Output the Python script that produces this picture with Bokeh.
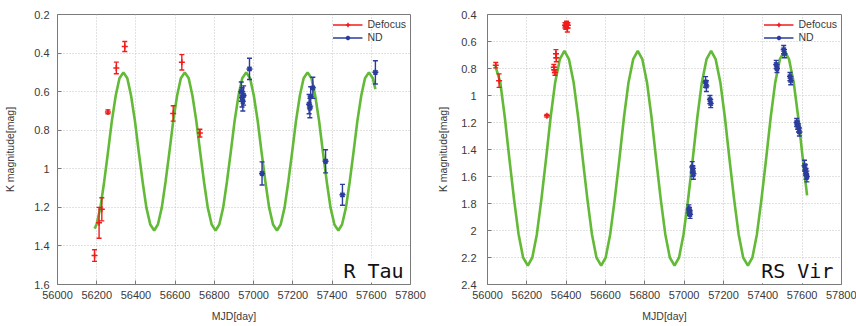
from bokeh.plotting import figure
from bokeh.layouts import row
from bokeh.models import Range1d, FixedTicker, Label, Legend, LegendItem, ColumnDataSource
from bokeh.embed import file_html
from bokeh.resources import INLINE

# ---------------- data ----------------
x_ticks = [56000, 56200, 56400, 56600, 56800, 57000, 57200, 57400, 57600, 57800]
x_tick_labels = ["56000", "56200", "56400", "56600", "56800", "57000", "57200", "57400", "57600", "57800"]

rtau_y_ticks = [0.2, 0.4, 0.6, 0.8, 1.0, 1.2, 1.4, 1.6]
rtau_y_tick_labels = ["0.2", "0.4", "0.6", "0.8", "1", "1.2", "1.4", "1.6"]
rsvir_y_ticks = [0.4, 0.6, 0.8, 1.0, 1.2, 1.4, 1.6, 1.8, 2.0, 2.2, 2.4]
rsvir_y_tick_labels = ["0.4", "0.6", "0.8", "1", "1.2", "1.4", "1.6", "1.8", "2", "2.2", "2.4"]

# R Tau model curve
rtau_model_t = [56189, 56199, 56219, 56238, 56258, 56277, 56297, 56316,
                56336, 56356, 56375, 56395, 56414, 56434, 56453, 56473, 56493, 56512, 56532, 56551, 56571, 56590, 56610, 56629,
                56649, 56669, 56688, 56708, 56727, 56747, 56766, 56786, 56806, 56825, 56845, 56864, 56884, 56903, 56923, 56942,
                56962, 56982, 57001, 57021, 57040, 57060, 57079, 57099, 57119, 57138, 57158, 57177, 57197, 57216, 57236, 57255,
                57275, 57295, 57314, 57334, 57353, 57373, 57392, 57412, 57432, 57451, 57471, 57490, 57510, 57529, 57549, 57568,
                57588, 57608, 57621]
rtau_model_mag = [1.31, 1.289, 1.200, 1.067, 0.91, 0.753, 0.620, 0.531,
                  0.50, 0.531, 0.620, 0.753, 0.91, 1.067, 1.200, 1.289, 1.32, 1.289, 1.200, 1.067, 0.91, 0.753, 0.620, 0.531,
                  0.50, 0.531, 0.620, 0.753, 0.91, 1.067, 1.200, 1.289, 1.32, 1.289, 1.200, 1.067, 0.91, 0.753, 0.620, 0.531,
                  0.50, 0.531, 0.620, 0.753, 0.91, 1.067, 1.200, 1.289, 1.32, 1.289, 1.200, 1.067, 0.91, 0.753, 0.620, 0.531,
                  0.50, 0.531, 0.620, 0.753, 0.91, 1.067, 1.200, 1.289, 1.32, 1.289, 1.200, 1.067, 0.91, 0.753, 0.620, 0.531,
                  0.50, 0.531, 0.587]

rtau_defocus_t = [56189, 56212, 56226, 56257, 56300, 56343, 56590, 56634, 56726]
rtau_defocus_mag = [1.45, 1.28, 1.21, 0.705, 0.477, 0.366, 0.713, 0.448, 0.815]
rtau_defocus_err = [0.03, 0.08, 0.06, 0.01, 0.03, 0.026, 0.04, 0.04, 0.02]

rtau_nd_t = [56937, 56941, 56945, 56949, 56979, 57043, 57283, 57287, 57291, 57302, 57367, 57453, 57621]
rtau_nd_mag = [0.60, 0.63, 0.65, 0.62, 0.482, 1.024, 0.665, 0.685, 0.625, 0.58, 0.961, 1.135, 0.50]
rtau_nd_err = [0.05, 0.05, 0.05, 0.05, 0.055, 0.06, 0.05, 0.05, 0.05, 0.055, 0.06, 0.054, 0.06]

# RS Vir model curve
rsvir_model_t = [56040, 56065, 56088, 56111, 56135, 56158, 56181, 56205, 56228, 56251, 56274, 56298, 56321, 56344, 56368,
                 56391, 56414, 56438, 56461, 56484, 56508, 56531, 56554, 56578, 56601, 56624, 56647, 56671, 56694, 56717, 56741,
                 56764, 56787, 56811, 56834, 56857, 56881, 56904, 56927, 56951, 56974, 56997, 57020, 57044, 57067, 57090, 57114,
                 57137, 57160, 57184, 57207, 57230, 57254, 57277, 57300, 57324, 57347, 57370, 57393, 57417, 57440, 57463, 57487,
                 57510, 57533, 57557, 57580, 57603, 57625]
rsvir_model_mag = [0.78, 0.903, 1.161, 1.465, 1.769, 2.027, 2.200, 2.26, 2.200, 2.027, 1.769, 1.465, 1.161, 0.903, 0.730,
                   0.67, 0.730, 0.903, 1.161, 1.465, 1.769, 2.027, 2.200, 2.26, 2.200, 2.027, 1.769, 1.465, 1.161, 0.903, 0.730,
                   0.67, 0.730, 0.903, 1.161, 1.465, 1.769, 2.027, 2.200, 2.26, 2.200, 2.027, 1.769, 1.465, 1.161, 0.903, 0.730,
                   0.67, 0.730, 0.903, 1.161, 1.465, 1.769, 2.027, 2.200, 2.26, 2.200, 2.027, 1.769, 1.465, 1.161, 0.903, 0.730,
                   0.67, 0.730, 0.903, 1.161, 1.465, 1.74]

rsvir_defocus_t = [56042, 56059, 56302, 56337, 56340, 56343, 56348, 56350, 56394, 56398, 56402, 56406, 56409]
rsvir_defocus_mag = [0.775, 0.89, 1.15, 0.79, 0.81, 0.83, 0.69, 0.72, 0.48, 0.49, 0.47, 0.50, 0.48]
rsvir_defocus_err = [0.02, 0.05, 0.01, 0.02, 0.02, 0.02, 0.03, 0.03, 0.02, 0.02, 0.02, 0.03, 0.02]

rsvir_nd_t = [57024, 57027, 57030, 57041, 57044, 57047, 57109, 57113, 57131, 57135, 57468, 57472, 57506, 57510,
              57538, 57542, 57572, 57577, 57582, 57586, 57612, 57616, 57620, 57624]
rsvir_nd_mag = [1.84, 1.86, 1.88, 1.53, 1.56, 1.58, 0.90, 0.93, 1.03, 1.06, 0.77, 0.80, 0.66, 0.69,
                0.86, 0.89, 1.20, 1.22, 1.24, 1.27, 1.52, 1.55, 1.58, 1.60]
rsvir_nd_err = [0.03, 0.03, 0.03, 0.04, 0.04, 0.04, 0.04, 0.04, 0.03, 0.03, 0.03, 0.03, 0.03, 0.03,
                0.03, 0.03, 0.03, 0.03, 0.03, 0.03, 0.04, 0.04, 0.04, 0.04]

# ---------------- style ----------------
GREEN = "#62ba36"
RED = "#f01c1c"
BLUE = "#2b3c9c"
TXT = "#3a3a3a"
FONT = "Liberation Sans"


def errbars(p, t, mag, err, color, marker):
    src = ColumnDataSource(dict(t=t, mag=mag,
                                lo=[m - e for m, e in zip(mag, err)],
                                hi=[m + e for m, e in zip(mag, err)]))
    seg = p.segment(x0="t", y0="lo", x1="t", y1="hi", source=src, line_color=color, line_width=1.4)
    p.scatter(x="t", y="lo", source=src, marker="dash", size=5, line_color=color, line_width=1.4)
    p.scatter(x="t", y="hi", source=src, marker="dash", size=5, line_color=color, line_width=1.4)
    pts = p.scatter(x="t", y="mag", source=src, marker=marker, size=6, line_color=color, line_width=1.5)
    return seg, pts


def panel(width, borders, stand, y_ticks, y_labels, model_t, model_mag,
          d_t, d_mag, d_err, n_t, n_mag, n_err, name, name_x, name_y):
    left, right, top, bottom = borders
    p = figure(width=width, height=326, output_backend="svg", toolbar_location=None,
               x_range=Range1d(x_ticks[0], x_ticks[-1]),
               y_range=Range1d(y_ticks[-1], y_ticks[0]),
               min_border_left=left, min_border_right=right,
               min_border_top=top, min_border_bottom=bottom)
    p.background_fill_color = "white"
    p.border_fill_color = "white"
    p.outline_line_color = "#7a7a7a"
    p.outline_line_width = 1

    for ax, ticks, labels in ((p.xaxis, x_ticks, x_tick_labels), (p.yaxis, y_ticks, y_labels)):
        ax.ticker = FixedTicker(ticks=ticks)
        ax.major_label_overrides = dict(zip(ticks, labels))
        ax.axis_line_color = None
        ax.major_tick_in = 4
        ax.major_tick_out = 0
        ax.major_tick_line_color = "#7a7a7a"
        ax.minor_tick_line_color = None
        ax.major_label_text_font = FONT
        ax.major_label_text_font_size = "11px"
        ax.major_label_text_color = TXT
        ax.axis_label_text_font = FONT
        ax.axis_label_text_font_size = "10.5px"
        ax.axis_label_text_font_style = "normal"
        ax.axis_label_text_color = TXT
    p.xaxis.axis_label = "MJD[day]"
    p.yaxis.axis_label = "K magnitude[mag]"
    p.xaxis.major_label_standoff = 6
    p.xaxis.axis_label_standoff = 8
    p.yaxis.major_label_standoff = stand[0]
    p.yaxis.axis_label_standoff = stand[1]

    p.xgrid.ticker = FixedTicker(ticks=x_ticks)
    p.ygrid.ticker = FixedTicker(ticks=y_ticks)
    for g in (p.xgrid, p.ygrid):
        g.grid_line_color = "#c4c4c4"
        g.grid_line_dash = "1 2"
        g.grid_line_width = 1

    p.line(model_t, model_mag, line_color=GREEN, line_width=2.6)

    d_seg, d_pts = errbars(p, d_t, d_mag, d_err, RED, "cross")
    n_seg, n_pts = errbars(p, n_t, n_mag, n_err, BLUE, "asterisk")

    legend = Legend(items=[LegendItem(label="Defocus", renderers=[d_seg, d_pts]),
                           LegendItem(label="ND", renderers=[n_seg, n_pts])],
                    location="top_right")
    legend.label_text_font = FONT
    legend.label_text_font_size = "10.5px"
    legend.label_text_color = TXT
    legend.label_height = 11
    legend.glyph_height = 11
    legend.glyph_width = 30
    legend.spacing = 1
    legend.padding = 2
    legend.margin = 4
    legend.border_line_color = None
    legend.background_fill_alpha = 0
    p.add_layout(legend)

    p.add_layout(Label(x=name_x, y=name_y, text=name, text_align="right", text_baseline="bottom",
                       text_font="DejaVu Sans Mono", text_font_size="20px", text_color="#111111",
                       background_fill_color="white"))
    return p


p1 = panel(428, (57, 18, 11, 42), (8, 15), rtau_y_ticks, rtau_y_tick_labels, rtau_model_t, rtau_model_mag,
           rtau_defocus_t, rtau_defocus_mag, rtau_defocus_err, rtau_nd_t, rtau_nd_mag, rtau_nd_err,
           "R Tau", 57765, 1.59)
p2 = panel(428, (59, 15, 14, 40), (11, 9), rsvir_y_ticks, rsvir_y_tick_labels, rsvir_model_t, rsvir_model_mag,
           rsvir_defocus_t, rsvir_defocus_mag, rsvir_defocus_err, rsvir_nd_t, rsvir_nd_mag, rsvir_nd_err,
           "RS Vir", 57759, 2.39)

layout = row(p1, p2, spacing=0)
open("out.html", "w").write(file_html(layout, INLINE))
